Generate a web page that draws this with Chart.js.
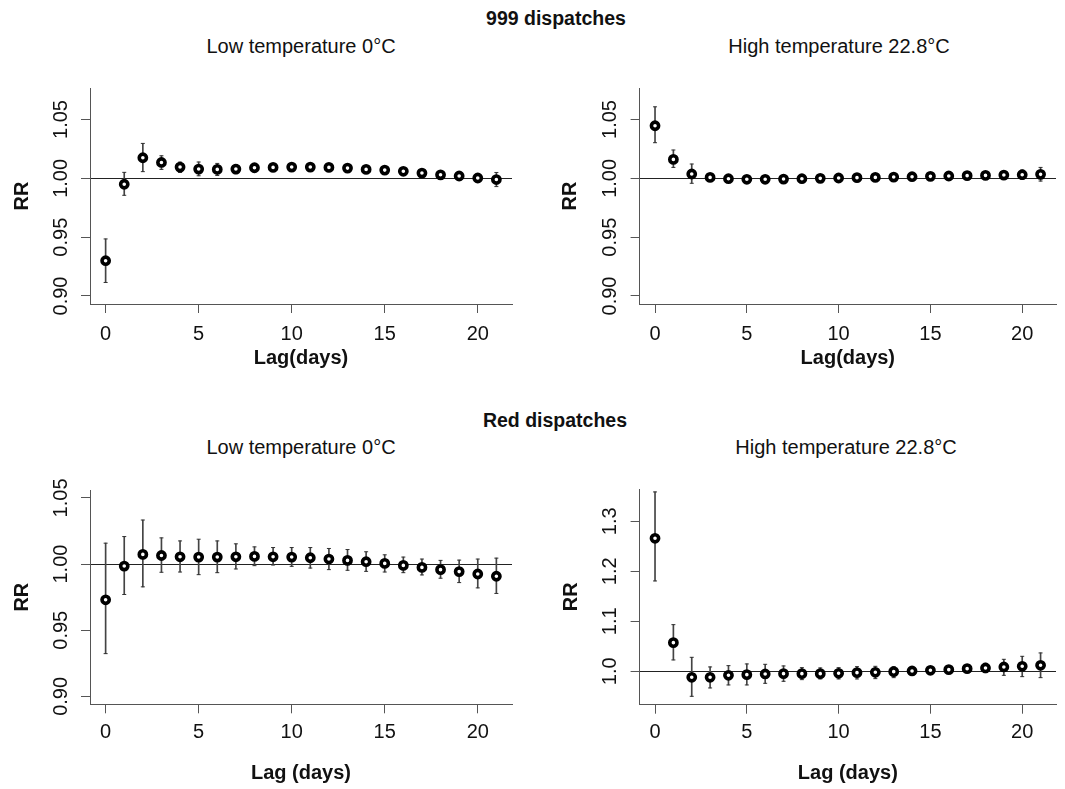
<!DOCTYPE html>
<html>
<head>
<meta charset="utf-8">
<script src="https://cdn.jsdelivr.net/npm/chart.js@4.4.1/dist/chart.umd.min.js"></script>
<style>
body { margin: 0; background: #fff; font-family: "Liberation Sans", Arial, sans-serif; color: #111; }
#page { position: relative; width: 1065px; height: 789px; overflow: hidden; }
.lbl { position: absolute; transform: translate(-50%, -50%); white-space: nowrap; font-size: 20px; line-height: 1; }
.lbl.bold { font-weight: bold; font-size: 19.5px; }
canvas { position: absolute; }
</style>
</head>
<body>
<div id="page">
  <div class="lbl bold" style="left:556px;top:19px">999 dispatches</div>
  <div class="lbl" style="left:301px;top:46px">Low temperature 0°C</div>
  <div class="lbl" style="left:839px;top:46px">High temperature 22.8°C</div>
  <div class="lbl bold" style="left:555px;top:421px">Red dispatches</div>
  <div class="lbl" style="left:301px;top:447px">Low temperature 0°C</div>
  <div class="lbl" style="left:846px;top:447px">High temperature 22.8°C</div>
  <canvas id="c1" width="532" height="310" style="left:0;top:60px"></canvas>
  <canvas id="c2" width="533" height="310" style="left:532px;top:60px"></canvas>
  <canvas id="c3" width="532" height="329" style="left:0;top:460px"></canvas>
  <canvas id="c4" width="533" height="329" style="left:532px;top:460px"></canvas>
</div>
<script>
// lags 0..21
const lags = [0, 1, 2, 3, 4, 5, 6, 7, 8, 9, 10, 11, 12, 13, 14, 15, 16, 17, 18, 19, 20, 21];
const xTicks = [0, 5, 10, 15, 20];

// 999 dispatches, low temperature
const rr999Low = [0.930, 0.995, 1.0175, 1.0135, 1.0096, 1.0079, 1.0076, 1.0079, 1.009, 1.0093, 1.0096, 1.0096, 1.0093, 1.0087, 1.0076, 1.007, 1.006, 1.0045, 1.003, 1.002, 1.0003, 0.999];
const lo999Low = [0.9115, 0.9856, 1.0057, 1.0076, 1.0050, 1.0022, 1.0024, 1.0040, 1.0058, 1.0063, 1.0068, 1.0068, 1.0066, 1.0061, 1.0052, 1.0046, 1.0038, 1.0025, 1.0011, 1.0000, 0.9980, 0.9930];
const hi999Low = [0.9485, 1.0051, 1.0297, 1.0192, 1.0138, 1.0139, 1.0127, 1.0118, 1.0122, 1.0123, 1.0124, 1.0124, 1.0120, 1.0113, 1.0100, 1.0094, 1.0082, 1.0065, 1.0049, 1.0040, 1.0026, 1.0050];

// 999 dispatches, high temperature
const rr999High = [1.0447, 1.0161, 1.0037, 1.0008, 0.9997, 0.9992, 0.9992, 0.9994, 0.9997, 1.0000, 1.0003, 1.0006, 1.0008, 1.0011, 1.0014, 1.0017, 1.0020, 1.0023, 1.0025, 1.0028, 1.0031, 1.0034];
const lo999High = [1.0303, 1.0093, 0.9958, 0.9985, 0.9978, 0.9975, 0.9976, 0.9979, 0.9983, 0.9986, 0.9989, 0.9991, 0.9993, 0.9995, 0.9997, 0.9998, 0.9999, 1.0000, 0.9998, 0.9996, 0.9992, 0.9977];
const hi999High = [1.0608, 1.0241, 1.0122, 1.0031, 1.0016, 1.0009, 1.0008, 1.0009, 1.0011, 1.0014, 1.0017, 1.0021, 1.0023, 1.0027, 1.0031, 1.0036, 1.0041, 1.0046, 1.0052, 1.0060, 1.0070, 1.0093];

// Red dispatches, low temperature
const rrRedLow = [0.973, 0.9985, 1.0073, 1.0065, 1.0055, 1.0053, 1.0053, 1.0055, 1.0058, 1.0055, 1.0053, 1.0048, 1.0038, 1.0028, 1.0018, 1.0005, 0.999, 0.9975, 0.9958, 0.9943, 0.9925, 0.9908];
const loRedLow = [0.9323, 0.977, 0.9828, 0.9938, 0.994, 0.992, 0.9935, 0.9963, 0.9988, 0.9993, 0.9983, 0.997, 0.9958, 0.9953, 0.9945, 0.994, 0.9935, 0.9918, 0.9893, 0.986, 0.982, 0.9778];
const hiRedLow = [1.0158, 1.0208, 1.0333, 1.0198, 1.0175, 1.0188, 1.0175, 1.0153, 1.013, 1.0125, 1.0125, 1.0125, 1.0118, 1.011, 1.0093, 1.007, 1.0053, 1.0038, 1.0028, 1.003, 1.0038, 1.0045];

// Red dispatches, high temperature
const rrRedHigh = [1.266, 1.0573, 0.988, 0.988, 0.992, 0.9933, 0.9947, 0.9953, 0.9953, 0.9953, 0.996, 0.9973, 0.998, 0.9993, 1.0007, 1.002, 1.0033, 1.0053, 1.0067, 1.0087, 1.01, 1.012];
const loRedHigh = [1.1807, 1.0227, 0.95, 0.9667, 0.9727, 0.9727, 0.976, 0.98, 0.9833, 0.9847, 0.9847, 0.9847, 0.9853, 0.9873, 0.992, 0.996, 0.9973, 0.9987, 0.9973, 0.992, 0.9893, 0.9873];
const hiRedHigh = [1.3587, 1.0933, 1.028, 1.0087, 1.0113, 1.0147, 1.014, 1.0107, 1.0073, 1.0067, 1.0073, 1.0093, 1.01, 1.0093, 1.008, 1.0073, 1.0093, 1.0113, 1.016, 1.024, 1.03, 1.0367];

// tick values / labels
const yTicksSmall = [0.90, 0.95, 1.00, 1.05];
const yLabelsSmall = ['0.90', '0.95', '1.00', '1.05'];
const yTicksBig = [1.0, 1.1, 1.2, 1.3];
const yLabelsBig = ['1.0', '1.1', '1.2', '1.3'];

Chart.defaults.font.family = '"Liberation Sans", Arial, sans-serif';
Chart.defaults.color = '#111';

const axisColor = '#555';

const makePanel = (id, rr, lo, hi, yRange, yTicks, yLabels, xTitle, lay) => {
    const pts = lags.map((x, i) => ({x: x, y: rr[i]}));
    const bars = lags.map((x, i) => ({x: x, y: [lo[i], hi[i]]}));
    const caps = lags.map((x, i) => ({x: x, y: lo[i]})).concat(lags.map((x, i) => ({x: x, y: hi[i]})));

    return new Chart(document.getElementById(id), {
        type: 'scatter',
        data: {
            datasets: [
                {
                    type: 'bar',
                    data: bars,
                    backgroundColor: '#444',
                    barThickness: 1,
                    grouped: false,
                    order: 3
                },
                {
                    data: caps,
                    pointStyle: 'line',
                    pointRadius: 2,
                    borderWidth: 1,
                    borderColor: '#333',
                    order: 2
                },
                {
                    data: pts,
                    pointStyle: 'circle',
                    pointRadius: 3.6,
                    borderWidth: 3.6,
                    borderColor: '#000',
                    backgroundColor: '#fff',
                    order: 1
                }
            ]
        },
        options: {
            responsive: false,
            animation: false,
            events: [],
            layout: { padding: { top: lay.padTop, right: lay.padRight, left: 0, bottom: 0 } },
            plugins: { legend: { display: false }, tooltip: { enabled: false } },
            scales: {
                x: {
                    type: 'linear',
                    min: -0.84,
                    max: 21.84,
                    offset: false,
                    afterBuildTicks: (s) => { s.ticks = xTicks.map(v => ({value: v})); },
                    afterFit: (s) => { s.height = lay.xHeight; },
                    ticks: { autoSkip: false, maxRotation: 0, padding: lay.xTickPad, font: { size: 20 }, color: '#111' },
                    grid: { offset: false, drawOnChartArea: false, drawTicks: true, tickLength: 9, tickColor: axisColor },
                    border: { display: true, color: axisColor, width: 1 },
                    title: { display: true, text: xTitle, font: { size: 20, weight: 'bold' }, color: '#111', padding: { top: 0, bottom: lay.xTitlePad } }
                },
                y: {
                    type: 'linear',
                    min: yRange[0],
                    max: yRange[1],
                    afterBuildTicks: (s) => { s.ticks = yTicks.map(v => ({value: v})); },
                    afterFit: (s) => { s.width = lay.yWidth; },
                    ticks: {
                        autoSkip: false,
                        minRotation: 90,
                        maxRotation: 90,
                        crossAlign: 'center',
                        padding: lay.yTickPad,
                        font: { size: 20 },
                        color: '#111',
                        callback: (v) => {
                            const k = yTicks.findIndex(t => Math.abs(t - v) < 1e-9);
                            return k >= 0 ? yLabels[k] : '';
                        }
                    },
                    grid: {
                        drawTicks: true,
                        tickLength: 9,
                        tickColor: axisColor,
                        lineWidth: 1,
                        color: (c) => (c.tick && Math.abs(c.tick.value - 1) < 1e-9) ? '#222' : 'rgba(0,0,0,0)'
                    },
                    border: { display: true, color: axisColor, width: 1 },
                    title: { display: true, text: 'RR', font: { size: 20, weight: 'bold' }, color: '#111', padding: { top: lay.yTitlePad, bottom: 0 } }
                }
            }
        }
    });
};

makePanel('c1', rr999Low, lo999Low, hi999Low, [0.8932, 1.0768], yTicksSmall, yLabelsSmall, 'Lag(days)',
    { padTop: 28, padRight: 20, yWidth: 90, xHeight: 66, xTickPad: 9, yTickPad: 0, xTitlePad: 0, yTitlePad: 10 });
makePanel('c2', rr999High, lo999High, hi999High, [0.8932, 1.0768], yTicksSmall, yLabelsSmall, 'Lag(days)',
    { padTop: 28, padRight: 9, yWidth: 107.6, xHeight: 66, xTickPad: 9, yTickPad: 1, xTitlePad: 0, yTitlePad: 26 });
makePanel('c3', rrRedLow, loRedLow, hiRedLow, [0.894, 1.056], yTicksSmall, yLabelsSmall, 'Lag (days)',
    { padTop: 30, padRight: 20, yWidth: 90, xHeight: 84.7, xTickPad: 7, yTickPad: 0, xTitlePad: 4, yTitlePad: 10 });
makePanel('c4', rrRedHigh, loRedHigh, hiRedHigh, [0.9332, 1.3646], yTicksBig, yLabelsBig, 'Lag (days)',
    { padTop: 29, padRight: 9, yWidth: 107.6, xHeight: 84.3, xTickPad: 7, yTickPad: 6, xTitlePad: 4, yTitlePad: 27 });
</script>
</body>
</html>
